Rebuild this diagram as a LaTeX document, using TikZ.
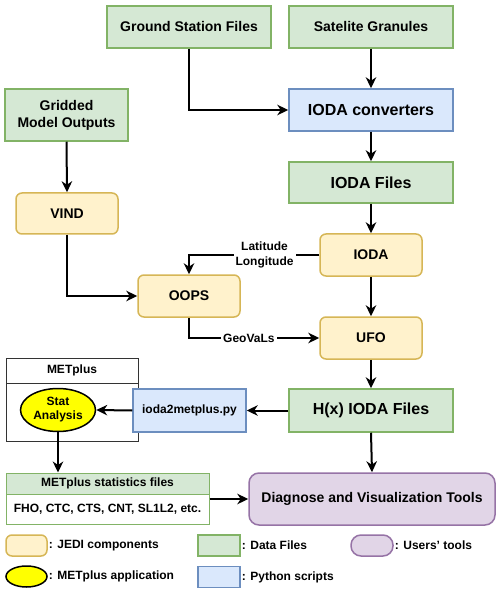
\documentclass[tikz,border=0pt]{standalone}
\usepackage{fontspec}
\setmainfont{Liberation Sans}
\usetikzlibrary{arrows.meta,shapes.geometric}
\definecolor{gfill}{HTML}{D5E8D4}
\definecolor{gdraw}{HTML}{82B366}
\definecolor{bfill}{HTML}{DAE8FC}
\definecolor{bdraw}{HTML}{6C8EBF}
\definecolor{yfill}{HTML}{FFF2CC}
\definecolor{ydraw}{HTML}{D6B656}
\definecolor{pfill}{HTML}{E1D5E7}
\definecolor{pdraw}{HTML}{9673A6}
\definecolor{statyellow}{HTML}{FFFF00}
\definecolor{metgray}{HTML}{333333}
\tikzset{
  box/.style={draw, line width=1.5pt, inner sep=2pt, align=center, font=\fontsize{14}{17}\selectfont\bfseries},
  bigtext/.style={font=\fontsize{16}{19}\selectfont\bfseries},
  databox/.style={box, fill=gfill, draw=gdraw},
  pybox/.style={box, fill=bfill, draw=bdraw},
  jedi/.style={box, fill=yfill, draw=ydraw, rounded corners=6pt},
  usrbox/.style={box, fill=pfill, draw=pdraw, rounded corners=10pt},
  smalltext/.style={font=\fontsize{12}{14.5}\selectfont\bfseries},
  lab/.style={smalltext, fill=white, inner sep=2pt, align=center},
  arr/.style={line width=2pt, -{Stealth[length=11pt,width=10.5pt,inset=3.5pt]}},
  legtxt/.style={smalltext, inner sep=1pt, anchor=west},
}
\begin{document}
\begin{tikzpicture}[x=1pt,y=-1pt]
\useasboundingbox[fill=white] (0,0) rectangle (500,593);

% top row
\node[databox, minimum width=164pt, minimum height=42pt] (gsf) at (189,27) {Ground Station Files};
\node[databox, minimum width=164pt, minimum height=42pt] (sat) at (371,27) {Satelite Granules};
\node[pybox, bigtext, minimum width=164pt, minimum height=42pt] (conv) at (371,110) {IODA converters};
\node[databox, bigtext, minimum width=164pt, minimum height=41pt] (iodaf) at (371,182.5) {IODA Files};
\node[jedi, minimum width=102pt, minimum height=42pt] (ioda) at (371,255) {IODA};
\node[jedi, minimum width=102pt, minimum height=42pt] (ufo) at (371,338) {UFO};
\node[databox, bigtext, minimum width=164pt, minimum height=43pt] (hx) at (371,410.5) {H(x) IODA Files};
\node[usrbox, minimum width=246pt, minimum height=52pt] (diag) at (372,499) {Diagnose and Visualization Tools};

% left column
\node[databox, minimum width=123pt, minimum height=52pt] (grid) at (66.5,115) {Gridded\\Model Outputs};
\node[jedi, minimum width=102pt, minimum height=41pt] (vind) at (67,213.5) {VIND};
\node[jedi, minimum width=102pt, minimum height=42pt] (oops) at (189,296) {OOPS};

% METplus container
\node[draw=metgray, line width=1pt, minimum width=132pt, minimum height=58pt, inner sep=0pt] (metbody) at (72,412) {};
\node[draw=metgray, line width=1pt, fill=white, minimum width=132pt, minimum height=25pt, inner sep=0pt, smalltext] (methead) at (72,370.5) {METplus};
\node[draw=black, line width=1.5pt, fill=statyellow, ellipse, minimum width=75pt, minimum height=43pt, inner sep=0pt, align=center, font=\fontsize{12}{14}\selectfont\bfseries] (stat) at (58,410) {Stat\\Analysis};
\node[pybox, smalltext, minimum width=113pt, minimum height=43pt] (py) at (189.5,410.5) {ioda2metplus.py};

% statistics files
\node[draw=gdraw, fill=gfill, line width=1pt, minimum width=203pt, minimum height=21pt, inner sep=0pt, smalltext] (stathead) at (107.5,483.5) {METplus statistics files};
\node[draw=gdraw, fill=white, line width=1pt, minimum width=203pt, minimum height=30pt, inner sep=0pt, smalltext] (statbody) at (107.5,509) {FHO, CTC, CTS, CNT, SL1L2, etc.};

% connectors
\draw[arr] (sat.south) -- (conv.north);
\draw[arr] (gsf.south) |- (conv.west);
\draw[arr] (conv.south) -- (iodaf.north);
\draw[arr] (iodaf.south) -- (ioda.north);
\draw[arr] (ioda.south) -- (ufo.north);
\draw[arr] (ufo.south) -- (hx.north);
\draw[arr] (hx.south) -- (diag.north);
\draw[arr] (grid.south) -- (vind.north);
\draw[arr] (vind.south) |- (oops.west);
\draw[arr] (ioda.west) -| node[lab, pos=0.21] {Latitude\\Longitude} (oops.north);
\draw[arr] (oops.south) |- node[lab, pos=0.73] {GeoVaLs} (ufo.west);
\draw[arr] (hx.west) -- (py.east);
\draw[arr] (py.west) -- (stat.east);
\draw[arr] (stat.south) -- (stat.south |- stathead.north);
\draw[arr] (statbody.east |- diag.west) -- (diag.west);

% legend
\node[jedi, minimum width=41pt, minimum height=21pt, inner sep=0pt] (lj) at (26.5,545.5) {};
\node[legtxt] (ljt) at (lj.east) {: JEDI components};
\node[databox, minimum width=42pt, minimum height=21pt, inner sep=0pt] (ld) at (219,545.5) {};
\node[legtxt] (ldt) at (ld.east) {: Data Files};
\node[usrbox, minimum width=42pt, minimum height=21pt, inner sep=0pt] (lu) at (372,545.5) {};
\node[legtxt] (lut) at (lu.east) {: Users{\char"27} tools};
\node[draw=black, line width=1.5pt, fill=statyellow, ellipse, minimum width=41pt, minimum height=21pt, inner sep=0pt] (lm) at (26.5,576.5) {};
\node[legtxt] (lmt) at (lm.east) {: METplus application};
\node[pybox, minimum width=42pt, minimum height=21pt, inner sep=0pt] (lp) at (219,577) {};
\node[legtxt] (lpt) at (lp.east) {: Python scripts};
\end{tikzpicture}
\end{document}
